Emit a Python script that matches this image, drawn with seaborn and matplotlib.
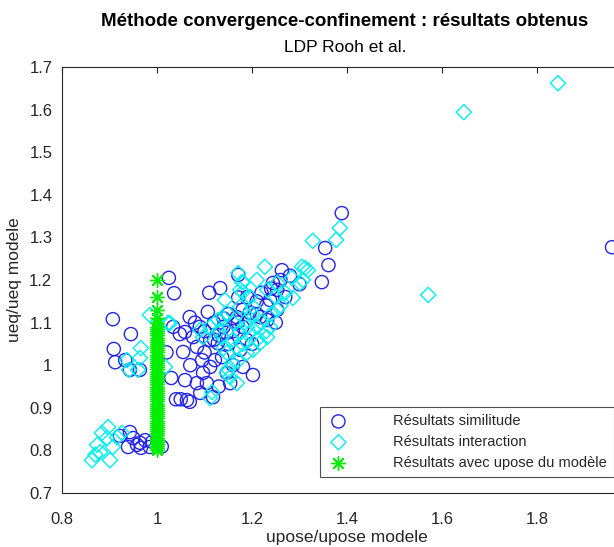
import matplotlib
matplotlib.use("Agg")
import matplotlib.pyplot as plt
import seaborn as sns

# Résultats similitude (cercles bleus)
sim_x = [0.939, 0.943, 0.975, 0.964, 0.958, 0.985, 0.966, 0.950, 0.922, 0.990, 1.010,
         0.907, 0.945, 0.909, 0.912, 0.933, 0.943, 0.964, 1.025, 1.036, 1.034,
         1.133, 1.171, 1.263, 1.171, 1.069, 1.107, 1.059, 1.076, 1.055, 1.059, 1.084,
         1.063, 1.069, 1.105, 1.097, 1.122, 1.128, 1.147, 1.168, 1.202, 1.195, 1.217,
         1.238, 1.253, 1.095, 1.112, 1.118, 1.091, 1.137, 1.175, 1.189, 1.232, 1.112,
         1.084, 1.048, 1.147, 1.154, 1.244, 1.253, 1.181,
         1.389, 1.354, 1.361, 1.347, 1.958,
         1.12, 1.14, 1.16, 1.10, 1.13, 1.18, 1.21, 1.22, 1.26, 1.27, 1.25, 1.19, 1.15,
         1.10, 1.07, 1.02, 1.03, 1.05, 1.04, 1.08, 1.20, 1.23, 1.28, 1.30, 1.16, 1.13,
         1.18, 1.11, 1.14, 1.17, 1.12, 1.09, 1.21, 1.15, 1.24]
sim_y = [0.808, 0.843, 0.824, 0.818, 0.813, 0.808, 0.806, 0.829, 0.834, 0.820, 0.809,
         1.108, 1.073, 1.038, 1.007, 1.012, 0.989, 0.989, 1.205, 1.169, 1.090,
         1.181, 1.212, 1.223, 1.159, 1.113, 1.125, 1.078, 1.066, 1.031, 0.965, 0.958,
         0.918, 0.914, 0.958, 0.982, 1.012, 1.052, 1.076, 1.113, 0.977, 1.123, 1.113,
         1.153, 1.177, 1.012, 0.996, 0.925, 0.935, 1.019, 1.036, 1.059, 1.106, 1.059,
         1.043, 1.073, 0.982, 0.958, 1.193, 1.130, 0.996,
         1.357, 1.275, 1.235, 1.195, 1.277,
         1.10, 1.09, 1.08, 1.08, 1.07, 1.09, 1.15, 1.17, 1.20, 1.16, 1.10, 1.16, 1.12,
         1.03, 1.00, 1.03, 0.97, 0.92, 0.92, 1.10, 1.05, 1.14, 1.21, 1.19, 1.00, 0.95,
         1.13, 1.17, 1.11, 1.10, 1.06, 1.09, 1.12, 1.05, 1.18]

# Résultats interaction (losanges cyan)
int_x = [0.884, 0.897, 0.874, 0.880, 0.863, 0.901, 0.916, 0.926, 0.895, 0.907, 0.870,
         0.966, 0.964, 0.937, 0.941, 0.960, 0.985, 1.023, 1.017,
         1.227, 1.328, 1.385, 1.377, 1.171, 1.181, 1.175, 1.143, 1.196, 1.253, 1.284,
         1.305, 1.286, 1.301, 1.312, 1.318, 1.307, 1.027, 1.091, 1.112, 1.128, 1.147,
         1.175, 1.189, 1.210, 1.232, 1.217, 1.196, 1.175, 1.168, 1.147, 1.158, 1.147,
         1.168, 1.154, 1.116, 1.112, 1.189, 1.202, 1.097, 1.137, 1.238, 1.253, 1.232,
         1.202, 1.179, 1.181,
         1.844, 1.646, 1.571,
         1.22, 1.24, 1.26, 1.19, 1.16, 1.14, 1.20, 1.27, 1.21, 1.15, 1.17, 1.13, 1.25,
         1.18, 1.23, 1.16, 1.21, 1.14]
int_y = [0.841, 0.855, 0.813, 0.796, 0.777, 0.777, 0.831, 0.841, 0.829, 0.808, 0.790,
         1.040, 1.017, 1.012, 0.989, 0.989, 1.118, 1.099, 0.996,
         1.231, 1.292, 1.322, 1.294, 1.216, 1.195, 1.177, 1.153, 1.160, 1.193, 1.205,
         1.231, 1.158, 1.193, 1.228, 1.223, 1.200, 1.099, 1.083, 1.090, 1.106, 1.123,
         1.137, 1.106, 1.090, 1.066, 1.052, 1.076, 1.076, 1.043, 1.029, 1.005, 0.982,
         0.958, 0.972, 0.937, 0.923, 1.029, 1.036, 1.066, 1.066, 1.090, 1.130, 1.177,
         1.137, 1.195, 1.172,
         1.662, 1.594, 1.165,
         1.10, 1.12, 1.14, 1.09, 1.06, 1.04, 1.12, 1.17, 1.20, 0.99, 1.01, 1.08, 1.16,
         1.05, 1.08, 1.10, 1.06, 1.11]

# Résultats avec upose du modèle (étoiles vertes)
mod_y = [1.200, 1.160, 1.130, 1.110, 1.100, 1.090, 1.085, 1.080, 1.075, 1.070, 1.065,
         1.060, 1.055, 1.050, 1.045, 1.040, 1.035, 1.030, 1.025, 1.020, 1.015, 1.010,
         1.005, 1.000, 0.995, 0.990, 0.985, 0.980, 0.975, 0.970, 0.965, 0.960, 0.955,
         0.950, 0.945, 0.940, 0.935, 0.930, 0.925, 0.920, 0.915, 0.910, 0.905, 0.900,
         0.895, 0.890, 0.885, 0.880, 0.875, 0.870, 0.865, 0.860, 0.855, 0.850, 0.845,
         0.840, 0.835, 0.830, 0.825, 0.820, 0.815, 0.810, 0.805, 0.800]
mod_x = [1.0] * len(mod_y)

x_ticks = [0.8, 1.0, 1.2, 1.4, 1.6, 1.8]
x_ticklabels = ["0.8", "1", "1.2", "1.4", "1.6", "1.8"]
y_ticks = [0.7, 0.8, 0.9, 1.0, 1.1, 1.2, 1.3, 1.4, 1.5, 1.6, 1.7]
y_ticklabels = ["0.7", "0.8", "0.9", "1", "1.1", "1.2", "1.3", "1.4", "1.5", "1.6", "1.7"]

sns.set_style("white")
plt.rcParams['font.family'] = ['Liberation Sans', 'DejaVu Sans']

fig = plt.figure(figsize=(6.14, 5.47), dpi=100)
# l'axe dépasse à droite comme dans l'image d'origine (recadrée)
ax = fig.add_axes([62 / 614, 54 / 547, 570 / 614, 426 / 547])

sns.scatterplot(x=sim_x, y=sim_y, ax=ax, marker="o", s=90,
                facecolors="none", edgecolor="#2424e8", linewidth=1.0,
                label="Résultats similitude")
sns.scatterplot(x=int_x, y=int_y, ax=ax, marker="D", s=60,
                facecolors="none", edgecolor="#00f0f0", linewidth=1.0,
                label="Résultats interaction")
sns.scatterplot(x=mod_x, y=mod_y, ax=ax, marker=(8, 2, 0), s=100,
                color="#00ee00", edgecolor="#00ee00", linewidth=1.0,
                label="Résultats avec upose du modèle")

ax.set_xlim(0.8, 2.0)
ax.set_ylim(0.7, 1.7)
ax.set_xticks(x_ticks)
ax.set_xticklabels(x_ticklabels)
ax.set_yticks(y_ticks)
ax.set_yticklabels(y_ticklabels)
ax.tick_params(direction="in", length=4, width=0.8, labelsize=12,
               colors="#262626", top=True, right=True)
ax.tick_params(axis="x", pad=14)
ax.tick_params(axis="y", pad=7)
for sp in ax.spines.values():
    sp.set_color("#262626")
    sp.set_linewidth(0.8)

ax.set_xlabel("upose/upose modele", fontsize=12.5, color="#262626", labelpad=2)
ax.set_ylabel("ueq/ueq modele", fontsize=12.5, color="#262626", labelpad=5)

fig.text(345 / 614, 1 - 22 / 547, "Méthode convergence-confinement : résultats obtenus",
         ha="center", va="center", fontsize=13.5, fontweight="bold", color="black")
fig.text(345 / 614, 1 - 47 / 547, "LDP Rooh et al.",
         ha="center", va="center", fontsize=12.5, color="black")

leg = ax.legend(loc="lower left", bbox_to_anchor=(0.453, 0.037), fontsize=10.5,
                frameon=True, fancybox=False, edgecolor="#262626",
                borderpad=0.5, labelspacing=0.47, handletextpad=3.0,
                handlelength=1.5, borderaxespad=0)
leg.get_frame().set_linewidth(0.8)

fig.savefig("out.png", dpi=100)
